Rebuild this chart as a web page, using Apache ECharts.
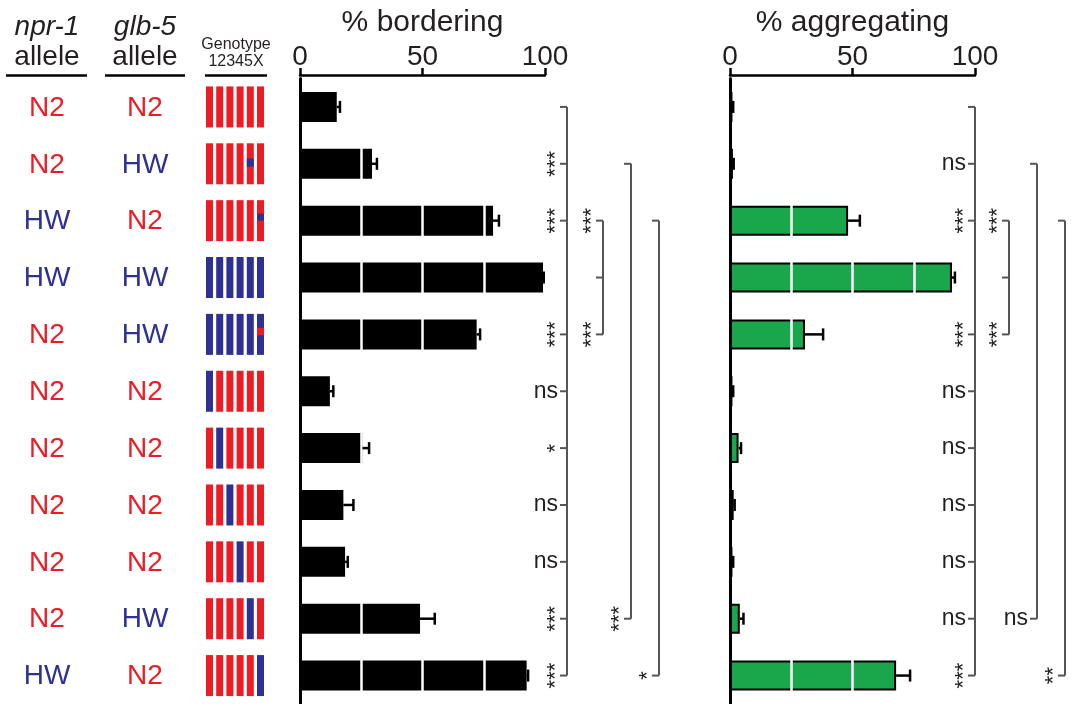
<!DOCTYPE html>
<html>
<head>
<meta charset="utf-8">
<script src="https://cdn.jsdelivr.net/npm/echarts@6/dist/echarts.min.js"></script>
<style>html,body{margin:0;padding:0;background:#fff}#main{width:1072px;height:704px}</style>
</head>
<body>
<div id="main"></div>
<script>
// strains, top to bottom
var rows = ['1', '2', '3', '4', '5', '6', '7', '8', '9', '10', '11'];
var npr1Allele = ['N2', 'N2', 'HW', 'HW', 'N2', 'N2', 'N2', 'N2', 'N2', 'N2', 'HW'];
var glb5Allele = ['N2', 'HW', 'N2', 'HW', 'HW', 'N2', 'N2', 'N2', 'N2', 'HW', 'N2'];
// chromosomes I II III IV V X
var genotype = [
  ['N2', 'N2', 'N2', 'N2', 'N2', 'N2'],
  ['N2', 'N2', 'N2', 'N2', 'N2', 'N2'],
  ['N2', 'N2', 'N2', 'N2', 'N2', 'N2'],
  ['HW', 'HW', 'HW', 'HW', 'HW', 'HW'],
  ['HW', 'HW', 'HW', 'HW', 'HW', 'HW'],
  ['HW', 'N2', 'N2', 'N2', 'N2', 'N2'],
  ['N2', 'HW', 'N2', 'N2', 'N2', 'N2'],
  ['N2', 'N2', 'HW', 'N2', 'N2', 'N2'],
  ['N2', 'N2', 'N2', 'HW', 'N2', 'N2'],
  ['N2', 'N2', 'N2', 'N2', 'HW', 'N2'],
  ['N2', 'N2', 'N2', 'N2', 'N2', 'HW']
];
// small introgressed segments: [chromosome index, start, end, allele]
var introgression = [null, [4, 0.37, 0.57, 'HW'], [5, 0.33, 0.5, 'HW'], null, [5, 0.34, 0.52, 'N2'],
  null, null, null, null, null, null];

var bordering = [15, 29.4, 78.8, 99.2, 72.1, 12.2, 25.5, 17.7, 18.4, 49, 92.5];
var borderingErr = [1.3, 2, 2.4, 0.3, 1.4, 1.4, 2.7, 4.1, 1.1, 6, 0.6];
var aggregating = [1, 1.2, 48.2, 90.6, 30.6, 1, 3.5, 1.5, 1, 4, 67.8];
var aggregatingErr = [0.3, 0.3, 4.8, 1.2, 7.4, 0.3, 1, 0.4, 0.3, 1.5, 5.7];

// brackets: list of [row, label]
var borderingSig = [
  [[0, ''], [1, '***'], [2, '***'], [4, '***'], [5, 'ns'], [6, '*'], [7, 'ns'], [8, 'ns'], [9, '***'], [10, '***']],
  [[2, '***'], [3, ''], [4, '***']],
  [[1, ''], [9, '***']],
  [[2, ''], [10, '*']]
];
var aggregatingSig = [
  [[0, ''], [1, 'ns'], [2, '***'], [4, '***'], [5, 'ns'], [6, 'ns'], [7, 'ns'], [8, 'ns'], [9, 'ns'], [10, '***']],
  [[2, '***'], [3, ''], [4, '***']],
  [[1, ''], [9, 'ns']],
  [[2, ''], [10, '**']]
];

var RED = '#ed1c24', BLUE = '#2e3192', GREEN = '#1aa64b', INK = '#231f20';
var FONT = 'Liberation Sans, Arial, sans-serif';
function alleleColor(a) { return a === 'HW' ? BLUE : RED; }

var chart = echarts.init(document.getElementById('main'));

function valueAxis(grid, name) {
  return {
    gridIndex: grid, type: 'value', position: 'top', offset: 3.5,
    min: 0, max: 100, interval: 50,
    axisLine: { show: true, lineStyle: { color: '#000', width: 2.5 } },
    axisTick: { show: true, length: 7, lineStyle: { color: '#000', width: 2.5 } },
    axisLabel: { fontSize: 28, color: INK, margin: 4, fontFamily: FONT },
    splitLine: { show: false },
    name: name, nameLocation: 'middle', nameGap: 36,
    nameTextStyle: { fontSize: 30, color: INK, fontFamily: FONT }
  };
}
function catAxis(grid, show) {
  return {
    gridIndex: grid, type: 'category', data: rows, inverse: true, show: show,
    axisLine: { show: true, lineStyle: { color: '#000', width: 3 } },
    axisTick: { show: false }, axisLabel: { show: false }, splitLine: { show: false }, z: 6
  };
}

function barSeries(ax, values, color) {
  return {
    type: 'bar', xAxisIndex: ax, yAxisIndex: ax, data: values, barWidth: 30,
    itemStyle: { color: color, borderColor: '#000', borderWidth: color === '#000' ? 0 : 2 },
    markLine: {
      silent: true, symbol: ['none', 'none'], label: { show: false },
      lineStyle: { color: '#fff', width: 2.5, type: 'solid' },
      data: [{ xAxis: 25 }, { xAxis: 50 }, { xAxis: 75 }]
    }
  };
}

function errSeries(ax, values, errs) {
  return {
    type: 'custom', xAxisIndex: ax, yAxisIndex: ax, z: 7,
    data: values.map(function (v, i) { return [v, i, errs[i]]; }),
    renderItem: function (params, api) {
      var v = api.value(0), i = api.value(1), e = api.value(2);
      var p0 = api.coord([v, i]), p1 = api.coord([v + e, i]);
      var st = { stroke: '#000', lineWidth: 2.5 };
      return { type: 'group', children: [
        { type: 'line', shape: { x1: p0[0], y1: p0[1], x2: p1[0], y2: p1[1] }, style: st },
        { type: 'line', shape: { x1: p1[0], y1: p1[1] - 6, x2: p1[0], y2: p1[1] + 6 }, style: st }
      ] };
    }
  };
}

function sigSeries(ax, defs, offsets) {
  return {
    type: 'custom', xAxisIndex: ax, yAxisIndex: ax, clip: false,
    data: defs.map(function (d, i) { return [100, i]; }),
    renderItem: function (params, api) {
      var b = params.dataIndex;
      var marks = defs[b];
      var x = api.coord([100, 0])[0] + offsets[b];
      var rowsIn = marks.map(function (m) { return m[0]; });
      var yTop = api.coord([0, Math.min.apply(null, rowsIn)])[1];
      var yBot = api.coord([0, Math.max.apply(null, rowsIn)])[1];
      var st = { stroke: '#555', lineWidth: 2 };
      var kids = [{ type: 'line', shape: { x1: x, y1: yTop, x2: x, y2: yBot }, style: st }];
      marks.forEach(function (m) {
        var y = api.coord([0, m[0]])[1];
        kids.push({ type: 'line', shape: { x1: x - 7, y1: y, x2: x, y2: y }, style: st });
        if (m[1] === 'ns') {
          kids.push({ type: 'text', x: x - 9, y: y,
            style: { text: 'ns', font: '23px ' + FONT, fill: INK, align: 'right', verticalAlign: 'middle',
              textAlign: 'right', textVerticalAlign: 'middle' } });
        } else if (m[1]) {
          kids.push({ type: 'text', x: x - 11, y: y, rotation: Math.PI / 2,
            style: { text: m[1], font: '22px ' + FONT, fill: INK, align: 'center', verticalAlign: 'middle',
              textAlign: 'center', textVerticalAlign: 'middle' } });
        }
      });
      return { type: 'group', children: kids };
    }
  };
}

var labelSeries = {
  type: 'custom', xAxisIndex: 4, yAxisIndex: 2, clip: false,
  data: rows.map(function (r, i) { return [0, i]; }),
  renderItem: function (params, api) {
    var i = params.dataIndex;
    var yc = api.coord([0, i])[1];
    var txt = function (x, s) {
      return { type: 'text', x: api.coord([x, i])[0], y: yc + 1,
        style: { text: s, font: '28px ' + FONT, fill: alleleColor(s), align: 'center', verticalAlign: 'middle',
          textAlign: 'center', textVerticalAlign: 'middle' } };
    };
    var kids = [txt(47, npr1Allele[i]), txt(145, glb5Allele[i])];
    var h = 41, top = yc - h / 2;
    genotype[i].forEach(function (a, k) {
      var x0 = api.coord([206 + k * 10.2, i])[0];
      kids.push({ type: 'rect', shape: { x: x0, y: top, width: 7, height: h }, style: { fill: alleleColor(a) } });
      var seg = introgression[i];
      if (seg && seg[0] === k) {
        kids.push({ type: 'rect', shape: { x: x0, y: top + seg[1] * h, width: 7, height: (seg[2] - seg[1]) * h },
          style: { fill: alleleColor(seg[3]) } });
      }
    });
    return { type: 'group', children: kids };
  }
};

function headText(x, y, s, font) {
  return { type: 'text', x: x, y: y,
    style: { text: s, font: font, fill: INK, align: 'center', verticalAlign: 'middle',
      textAlign: 'center', textVerticalAlign: 'middle' } };
}
function headLine(x1, x2) {
  return { type: 'line', shape: { x1: x1, y1: 75.5, x2: x2, y2: 75.5 }, style: { stroke: '#000', lineWidth: 2.5 } };
}

var option = {
  animation: false,
  backgroundColor: '#fff',
  grid: [
    { left: 300, top: 78.5, width: 245, height: 630 },
    { left: 730, top: 78.5, width: 245, height: 630 },
    { left: 0, top: 78.5, width: 290, height: 630 }
  ],
  xAxis: [
    valueAxis(0, '% bordering'),
    valueAxis(1, '% aggregating'),
    { gridIndex: 0, type: 'value', min: 0, max: 100, show: false },
    { gridIndex: 1, type: 'value', min: 0, max: 100, show: false },
    { gridIndex: 2, type: 'value', min: 0, max: 290, show: false }
  ],
  yAxis: [catAxis(0, true), catAxis(1, true), catAxis(2, false)],
  graphic: [
    headText(47, 27, 'npr-1', 'italic 28px ' + FONT),
    headText(47, 57, 'allele', '28px ' + FONT),
    headText(145, 27, 'glb-5', 'italic 28px ' + FONT),
    headText(145, 57, 'allele', '28px ' + FONT),
    headText(236, 45, 'Genotype', '16px ' + FONT),
    headText(236, 62, '12345X', '16px ' + FONT),
    headLine(6, 87), headLine(105, 185), headLine(205, 267)
  ],
  series: [
    barSeries(0, bordering, '#000'),
    errSeries(0, bordering, borderingErr),
    sigSeries(0, borderingSig, [22, 58, 86, 114]),
    barSeries(1, aggregating, GREEN),
    errSeries(1, aggregating, aggregatingErr),
    sigSeries(1, aggregatingSig, [0, 34, 62, 90]),
    labelSeries
  ]
};
chart.setOption(option);
</script>
</body>
</html>
